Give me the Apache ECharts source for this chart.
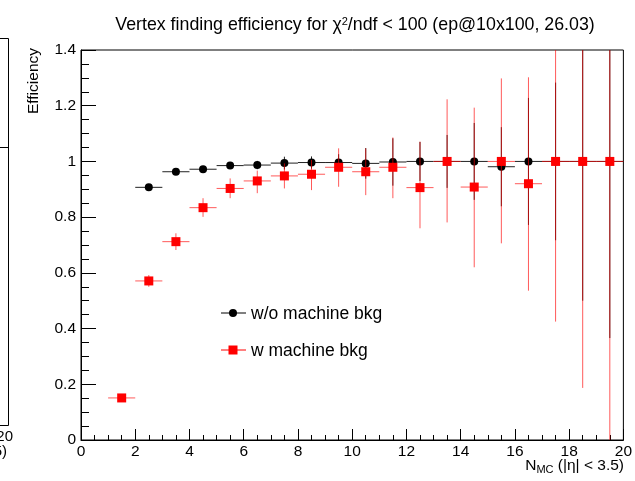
<!DOCTYPE html>
<html>
<head>
<meta charset="utf-8">
<script src="https://cdn.jsdelivr.net/npm/echarts@6/dist/echarts.min.js"></script>
<style>html,body{margin:0;padding:0;background:#fff}#c{width:635px;height:481px}</style>
</head>
<body>
<div id="c"></div>
<script>
// ---- data ----
var xBins = [1.5, 2.5, 3.5, 4.5, 5.5, 6.5, 7.5, 8.5, 9.5, 10.5, 11.5, 12.5, 13.5, 14.5, 15.5, 16.5, 17.5, 18.5, 19.5];
var xHalfWidth = 0.5;
// w/o machine bkg (black); no entry in first bin
var effNoBkg   = [null, 0.907, 0.963, 0.972, 0.985, 0.987, 0.994, 0.996, 0.996, 0.993, 0.998, 1.0, 1.0, 1.0, 0.981, 1.0, 1.0, 1.0, 1.0];
var errNoBkg   = [null, 0.012, 0.010, 0.012, 0.012, 0.015, 0.023, 0.022, 0.030, 0.055, 0.085, 0.070, 0.095, 0.138, 0.142, 0.228, 0.283, 0.500, 0.634];
// w machine bkg (red)
var effBkg     = [0.151, 0.571, 0.712, 0.834, 0.903, 0.930, 0.948, 0.954, 0.979, 0.963, 0.979, 0.906, 1.0, 0.908, 1.0, 0.920, 1.0, 1.0, 1.0];
var lowBkg     = [0.137, 0.550, 0.682, 0.801, 0.868, 0.886, 0.903, 0.897, 0.909, 0.879, 0.868, 0.760, 0.781, 0.620, 0.706, 0.536, 0.425, 0.187, -0.10];
var highBkg    = [0.165, 0.592, 0.742, 0.868, 0.939, 0.967, 0.993, 1.005, 1.047, 1.047, 1.086, 1.071, 1.223, 1.193, 1.298, 1.302, 1.575, 1.813, 2.10];
var seriesNames = ['w/o machine bkg', 'w machine bkg'];
var xTickValues = [0, 2, 4, 6, 8, 10, 12, 14, 16, 18, 20];
var yTickValues = [0, 0.2, 0.4, 0.6, 0.8, 1, 1.2, 1.4];

// ---- build ----
function buildBlack() {
  var out = [];
  for (var i = 0; i < xBins.length; i++) {
    if (effNoBkg[i] == null) continue;
    out.push([xBins[i], effNoBkg[i], effNoBkg[i] - errNoBkg[i], effNoBkg[i] + errNoBkg[i]]);
  }
  return out;
}
function buildRed() {
  var out = [];
  for (var i = 0; i < xBins.length; i++) out.push([xBins[i], effBkg[i], lowBkg[i], highBkg[i]]);
  return out;
}
var blackData = buildBlack();
var redData = buildRed();

function errRender(color) {
  return function (params, api) {
    var x = api.value(0), y = api.value(1), lo = api.value(2), hi = api.value(3);
    var l = api.coord([x - xHalfWidth, y]);
    var r = api.coord([x + xHalfWidth, y]);
    var t = api.coord([x, hi]);
    var b = api.coord([x, lo]);
    var st = {stroke: color, lineWidth: 1};
    return {
      type: 'group',
      children: [
        {type: 'line', shape: {x1: l[0], y1: l[1], x2: r[0], y2: r[1]}, style: st},
        {type: 'line', shape: {x1: t[0], y1: t[1], x2: b[0], y2: b[1]}, style: st}
      ]
    };
  };
}

var FONT = 'Liberation Sans, Arial, Helvetica, sans-serif';
var chart = echarts.init(document.getElementById('c'), null, {renderer: 'canvas'});
var option = {
  animation: false,
  backgroundColor: '#fff',
  title: {
    text: 'Vertex finding efficiency for χ{sup|2}/ndf < 100 (ep@10x100, 26.03)',
    left: 350, top: 11, textAlign: 'center',
    textStyle: {
      fontFamily: FONT, fontSize: 17.8, fontWeight: 'normal', color: '#000',
      rich: {sup: {fontSize: 11, verticalAlign: 'top', lineHeight: 11, padding: [0, 0, 9, 0], fontFamily: FONT, color: '#000'}}
    }
  },
  grid: {left: 81, right: 11, top: 50, bottom: 41, show: true, borderColor: '#000', borderWidth: 1, backgroundColor: 'transparent'},
  xAxis: {
    type: 'value', min: xTickValues[0], max: xTickValues[xTickValues.length - 1], interval: 2,
    axisLine: {show: true, onZero: false, lineStyle: {color: '#000', width: 1}},
    axisTick: {show: true, inside: true, length: 11, lineStyle: {color: '#000'}},
    minorTick: {show: true, splitNumber: 4, length: 5, lineStyle: {color: '#000'}},
    splitLine: {show: false},
    axisLabel: {color: '#000', fontSize: 15.5, fontFamily: FONT, margin: 4, showMinLabel: true, showMaxLabel: true}
  },
  yAxis: {
    type: 'value', min: yTickValues[0], max: yTickValues[yTickValues.length - 1], interval: 0.2,
    axisLine: {show: true, onZero: false, lineStyle: {color: '#000', width: 1}},
    axisTick: {show: true, inside: true, length: 15, lineStyle: {color: '#000'}},
    minorTick: {show: true, splitNumber: 4, length: 8, lineStyle: {color: '#000'}},
    splitLine: {show: false},
    axisLabel: {color: '#000', fontSize: 15.5, fontFamily: FONT, margin: 5, showMinLabel: true, showMaxLabel: true,
      formatter: function (v) { return String(Math.round(v * 10) / 10); }}
  },
  series: [
    {type: 'custom', name: seriesNames[0] + ' err', data: blackData, renderItem: errRender('#222'), clip: true, z: 2, silent: true},
    {type: 'scatter', name: seriesNames[0], data: blackData, symbol: 'circle', symbolSize: 8, itemStyle: {color: '#000', opacity: 1}, z: 3, silent: true},
    {type: 'custom', name: seriesNames[1] + ' err', data: redData, renderItem: errRender('rgba(255,0,0,0.65)'), clip: true, z: 4, silent: true},
    {type: 'scatter', name: seriesNames[1], data: redData, symbol: 'rect', symbolSize: 9, itemStyle: {color: '#ff0000', opacity: 1}, z: 5, silent: true}
  ],
  graphic: [
    // y axis title
    {type: 'text', x: 26, y: 48, rotation: Math.PI / 2, style: {text: 'Efficiency', font: '15.5px ' + FONT, fill: '#000', align: 'right', verticalAlign: 'top'}},
    // x axis title
    {type: 'text', right: 11, top: 458, style: {
      text: 'N{sub|MC} (|η| < 3.5)', font: '15.5px ' + FONT, fill: '#000',
      rich: {sub: {fontSize: 11, fontFamily: FONT, fill: '#000', padding: [7, 0, 0, 0]}}}},
    // legend
    {type: 'line', shape: {x1: 221, y1: 313, x2: 246, y2: 313}, style: {stroke: '#000', lineWidth: 1}},
    {type: 'circle', shape: {cx: 233, cy: 313, r: 4}, style: {fill: '#000'}},
    {type: 'text', x: 251, y: 314, style: {text: seriesNames[0], font: '17.5px ' + FONT, fill: '#000', verticalAlign: 'middle'}},
    {type: 'line', shape: {x1: 221, y1: 350, x2: 246, y2: 350}, style: {stroke: '#ff0000', lineWidth: 1}},
    {type: 'rect', shape: {x: 228.5, y: 345.5, width: 9, height: 9}, style: {fill: '#ff0000'}},
    {type: 'text', x: 251, y: 351, style: {text: seriesNames[1], font: '17.5px ' + FONT, fill: '#000', verticalAlign: 'middle'}},
    // partial neighbouring pad on the left
    {type: 'polyline', shape: {points: [[0, 38.5], [8.5, 38.5], [8.5, 425.5], [0, 425.5]]}, style: {stroke: '#000', fill: null, lineWidth: 1}},
    {type: 'line', shape: {x1: 0, y1: 147.5, x2: 8.5, y2: 147.5}, style: {stroke: '#000', lineWidth: 1}},
    {type: 'text', x: 13, y: 437, style: {text: '20', font: '15px ' + FONT, fill: '#000', align: 'right', verticalAlign: 'middle'}},
    {type: 'text', x: 7, y: 452, style: {text: '5)', font: '15px ' + FONT, fill: '#000', align: 'right', verticalAlign: 'middle'}}
  ]
};
chart.setOption(option);
</script>
</body>
</html>
